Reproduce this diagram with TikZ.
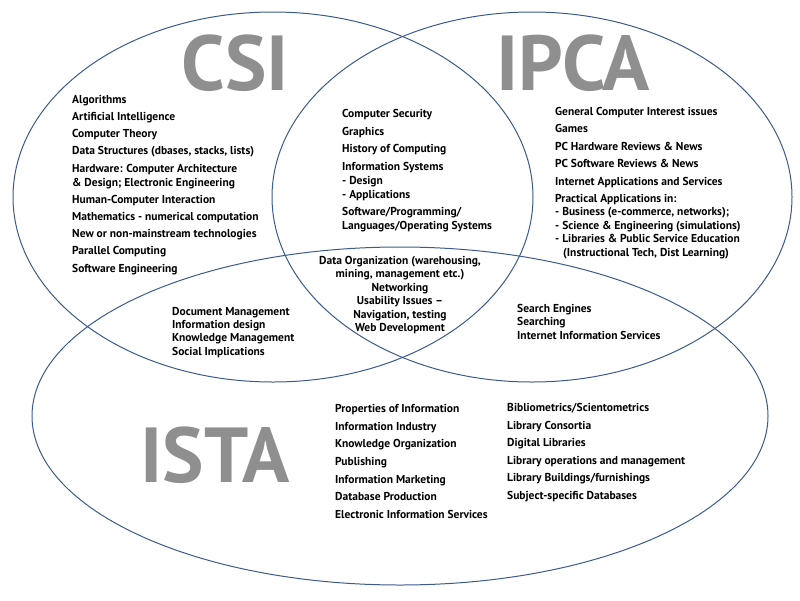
\documentclass[tikz,border=0pt]{standalone}
\usepackage{fontspec}
\setmainfont{PT Sans}

\definecolor{ringblue}{HTML}{3B5B8E}
\definecolor{labelgray}{HTML}{8F8F8F}

\begin{document}
\begin{tikzpicture}[
    x=1pt, y=-1pt,
    ring/.style={
        draw=ringblue,
        line width=1pt
    },
    biglabel/.style={
        font=\fontsize{78}{78}\selectfont\bfseries,
        text=labelgray,
        inner sep=0pt
    },
    topics/.style={
        anchor=north west,
        align=left,
        inner sep=0pt,
        font=\fontsize{11.5}{#1}\selectfont\bfseries
    },
    topics/.default=17.4
]

\useasboundingbox (0,0) rectangle (800,600);

% The three fields
\draw[ring] (273,197) ellipse [x radius=260, y radius=185];
\draw[ring] (532,197) ellipse [x radius=260, y radius=185];
\draw[ring] (400,416) ellipse [x radius=368, y radius=169];

% Field names
\node[biglabel] (csi) at (235,63) {CSI};
\node[biglabel] (ipca) at (573,63) {IPCA};
\node[biglabel] (ista) at (215,455) {ISTA};

% CSI only
\node[topics=17.2] (csitopics) at (72,95) {
    Algorithms\\
    Artificial Intelligence\\
    Computer Theory\\
    Data Structures (dbases, stacks, lists)\\
    Hardware: Computer Architecture\\[-3.2pt]
    \& Design;  Electronic Engineering\\
    Human-Computer Interaction\\
    Mathematics - numerical computation\\
    New or non-mainstream technologies\\
    Parallel Computing\\
    Software Engineering
};

% CSI and IPCA
\node[topics=17.6] (csiipca) at (342,109) {
    Computer Security\\
    Graphics\\
    History of Computing\\
    Information Systems\\[-3.6pt]
    - Design\\[-3.6pt]
    - Applications\\
    Software/Programming/\\[-3.6pt]
    Languages/Operating Systems
};

% IPCA only
\node[topics=17.4] (ipcatopics) at (555,107) {
    General Computer Interest issues\\
    Games\\
    PC Hardware Reviews \& News\\
    PC Software Reviews \& News\\
    Internet Applications and Services\\
    Practical Applications in:\\[-4pt]
    - Business (e-commerce, networks);\\[-4pt]
    - Science \& Engineering (simulations)\\[-4pt]
    - Libraries \& Public Service Education\\[-4pt]
    \hspace*{8pt}(Instructional Tech, Dist Learning)
};

% All three
\node[topics=13.4, anchor=north, align=center] (allthree) at (400,256) {
    Data Organization (warehousing,\\
    mining,  management etc.)\\
    Networking\\
    Usability Issues –\\
    Navigation, testing\\
    Web Development
};

% CSI and ISTA
\node[topics=13.3] (csiista) at (172,307) {
    Document Management\\
    Information design\\
    Knowledge Management\\
    Social Implications
};

% IPCA and ISTA
\node[topics=13.5] (ipcaista) at (517,304) {
    Search Engines\\
    Searching\\
    Internet Information Services
};

% ISTA only
\node[topics=17.7] (istaleft) at (335,404) {
    Properties of Information\\
    Information Industry\\
    Knowledge Organization\\
    Publishing\\
    Information Marketing\\
    Database Production\\
    Electronic Information Services
};
\node[topics=17.6] (istaright) at (507,403) {
    Bibliometrics/Scientometrics\\
    Library Consortia\\
    Digital Libraries\\
    Library operations and management\\
    Library Buildings/furnishings\\
    Subject-specific Databases
};

\end{tikzpicture}
\end{document}
